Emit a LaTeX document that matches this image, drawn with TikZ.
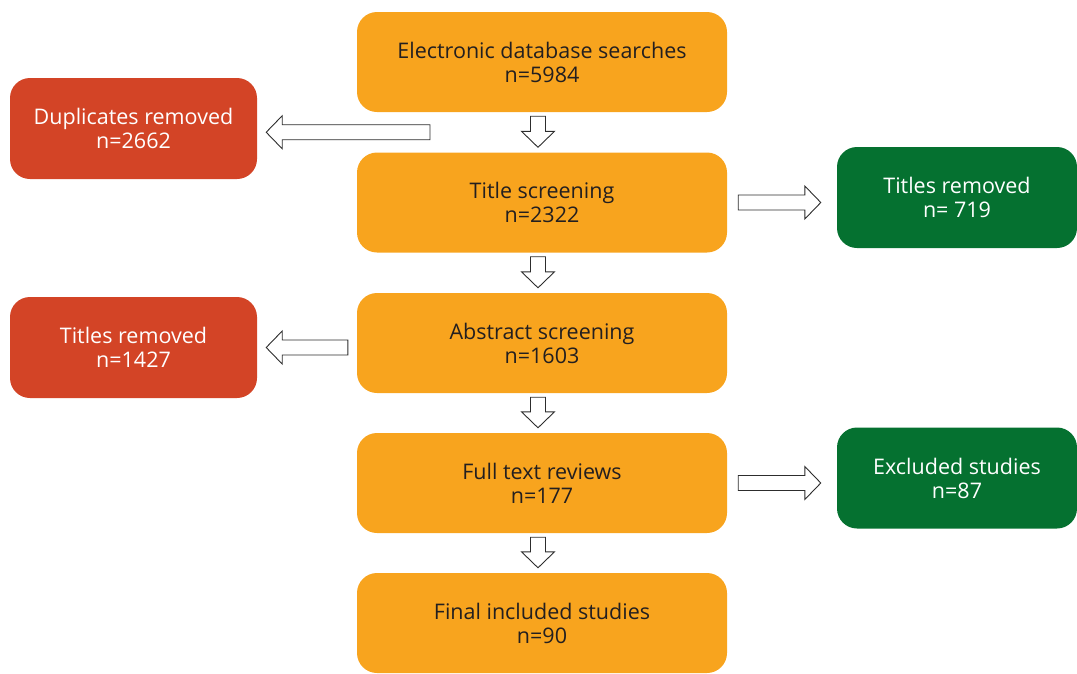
\documentclass[tikz,border=0pt]{standalone}
\usepackage{fontspec}
\setmainfont{Open Sans}
\usetikzlibrary{calc}
\definecolor{orangebox}{RGB}{248,164,30}
\definecolor{redbox}{RGB}{211,68,38}
\definecolor{greenbox}{RGB}{5,113,48}
\definecolor{txtdark}{RGB}{35,31,32}
\definecolor{arrowline}{RGB}{45,45,45}
\newcommand\barrow[2]{%
  \coordinate (bh) at ($(#2)!16pt!(#1)$);
  \draw[blockarrow] ($(#1)!7.5pt!90:(#2)$) -- ($(bh)!7.5pt!90:(#2)$) -- ($(bh)!16.5pt!90:(#2)$)
    -- (#2) -- ($(bh)!16.5pt!-90:(#2)$) -- ($(bh)!7.5pt!-90:(#2)$) -- ($(#1)!7.5pt!-90:(#2)$) -- cycle;}
\begin{document}
\begin{tikzpicture}[x=1pt,y=-1pt,
  box/.style={rounded corners=20pt, minimum height=100pt, align=center, inner sep=0pt,
    font=\fontsize{21.5}{24}\selectfont},
  mainbox/.style={box, fill=orangebox, text=txtdark, minimum width=370pt},
  redbx/.style={box, fill=redbox, text=white, minimum width=247pt, minimum height=101pt},
  greenbx/.style={box, fill=greenbox, text=white, minimum width=240pt, minimum height=101pt},
  blockarrow/.style={draw=arrowline, fill=white, line width=0.9pt, line join=miter}]
\useasboundingbox (0,0) rectangle (1077,673);

\node[mainbox] (e1) at (542,62) {Electronic database searches\\n=5984};
\node[mainbox] (e2) at (542,202.5) {Title screening\\n=2322};
\node[mainbox] (e3) at (542,343) {Abstract screening\\n=1603};
\node[mainbox] (e4) at (542,483) {Full text reviews\\n=177};
\node[mainbox] (e5) at (542,623) {Final included studies\\n=90};

\node[redbx] (r1) at (133.5,128.5) {Duplicates removed\\n=2662};
\node[redbx] (r2) at (133.5,347.5) {Titles removed\\n=1427};

\node[greenbx] (g1) at (957,197.5) {Titles removed\\n= 719};
\node[greenbx] (g2) at (957,478) {Excluded studies\\n=87};

% down arrows
\coordinate (d1a) at ($(e1.south)+(-4,4)$);
\coordinate (d1b) at ($(e2.north)+(-4,-5)$);
\barrow{d1a}{d1b}
\coordinate (d2a) at ($(e2.south)+(-4,4)$);
\coordinate (d2b) at ($(e3.north)+(-4,-5)$);
\barrow{d2a}{d2b}
\coordinate (d3a) at ($(e3.south)+(-4,4)$);
\coordinate (d3b) at ($(e4.north)+(-4,-5)$);
\barrow{d3a}{d3b}
\coordinate (d4a) at ($(e4.south)+(-4,4)$);
\coordinate (d4b) at ($(e5.north)+(-4,-5)$);
\barrow{d4a}{d4b}

% side arrows
\coordinate (l1a) at ($(e1.south)!0.5!(e2.north)+(-112,0)$);
\coordinate (l1b) at ($(r1.east |- l1a)+(9,0)$);
\barrow{l1a}{l1b}
\coordinate (l2a) at ($(e3.west |- r2.east)+(-9,0)$);
\coordinate (l2b) at ($(r2.east)+(9,0)$);
\barrow{l2a}{l2b}
\coordinate (rt1a) at ($(e2.east)+(11,0)$);
\coordinate (rt1b) at ($(g1.west |- e2.east)+(-16,0)$);
\barrow{rt1a}{rt1b}
\coordinate (rt2a) at ($(e4.east)+(11,0)$);
\coordinate (rt2b) at ($(g2.west |- e4.east)+(-16,0)$);
\barrow{rt2a}{rt2b}
\end{tikzpicture}
\end{document}
